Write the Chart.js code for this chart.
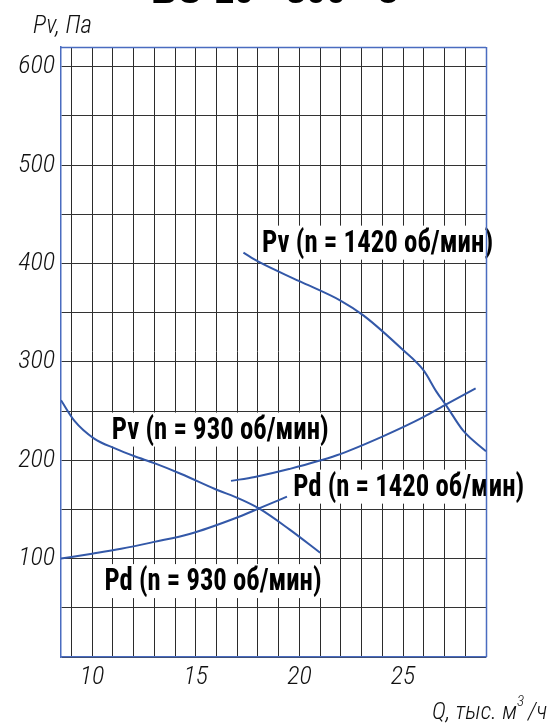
<!DOCTYPE html>
<html>
<head>
<meta charset="utf-8">
<script src="https://cdn.jsdelivr.net/npm/chart.js@4.4.1/dist/chart.umd.min.js"></script>
<style>
    body { margin: 0; background: #fff; overflow: hidden; }
    .wrap { position: relative; width: 549px; height: 725px; overflow: hidden; }
    .wrap canvas { position: absolute; left: 0; top: 0; }
    .title { position: absolute; left: 0; width: 549px; top: -27px; text-align: center;
             font: bold 36px 'Liberation Sans', Arial, sans-serif; line-height: 36px; color: #000; }
    .ytitle { position: absolute; left: 33px; top: 10px; font: italic 300 25px 'Roboto Condensed', 'Liberation Sans Narrow', sans-serif; color: #111; }
    .xtitle { position: absolute; left: 432px; top: 696px; font: italic 300 24px 'Roboto Condensed', 'Liberation Sans Narrow', sans-serif; color: #111; white-space: nowrap; }
    .xtitle sup { font-size: 15px; position: relative; top: -4px; margin-right: 4px; }
</style>
</head>
<body>
<div class="wrap">
    <canvas id="fanChart" width="549" height="725"></canvas>
    <div class="title">ВО 10 - 300 - 8</div>
    <div class="ytitle">Pv, Па</div>
    <div class="xtitle">Q, тыс. м<sup>3</sup>/ч</div>
</div>
<script>
// Values (Q in thousand m3/h, pressure in Pa)
const pv1420Q = [17.3, 18.0, 20.0, 22.0, 23.1, 25.0, 26.0, 26.6, 27.1, 27.9, 29.0];
const pv1420P = [411, 402, 382, 362, 347, 312, 291, 270, 255, 230, 209];

const pv930Q = [8.5, 9.15, 10.1, 11.1, 12.05, 13.0, 14.3, 15.9, 17.2, 18.05, 19.5, 21.0];
const pv930P = [261, 240, 222, 212, 204, 197, 186, 171, 160, 151, 130, 106];

const pd930Q = [8.5, 10.0, 11.4, 13.0, 14.7, 16.9, 18.05, 19.4];
const pd930P = [100, 105, 110, 117, 125, 141, 151, 163];

const pd1420Q = [16.7, 17.85, 19.5, 21.8, 24.0, 26.0, 27.1, 28.5];
const pd1420P = [179, 183, 191, 205, 224, 244, 257, 273];

const xTickLabels = [10, 15, 20, 25];
const yTickLabels = [100, 200, 300, 400, 500, 600];

const curveLabels = [
    'Pv (n = 1420 об/мин)',
    'Pv (n = 930 об/мин)',
    'Pd (n = 1420 об/мин)',
    'Pd (n = 930 об/мин)'
];

const lineColor = '#3358a8';
const frameColor = '#4a6cc0';

function toPoints(xs, ys) {
    return xs.map((x, i) => ({ x: x, y: ys[i] }));
}

function curve(label, xs, ys) {
    return {
        label: label,
        data: toPoints(xs, ys),
        borderColor: lineColor,
        borderWidth: 2,
        pointRadius: 0,
        fill: false,
        cubicInterpolationMode: 'monotone'
    };
}

// where each label sits: left edge / baseline in data units, plus its drawn width
const labelPlacement = [
    { q: 18.2, p: 412, w: 231 },
    { q: 10.95, p: 222, w: 217 },
    { q: 19.7, p: 164, w: 231 },
    { q: 10.6, p: 68, w: 217 }
];

// white boxed labels under the curves, plus the blue frame on top/right
const labelPlugin = {
    id: 'curveLabels',
    beforeDatasetsDraw(chart) {
        const ctx = chart.ctx;
        const xs = chart.scales.x;
        const ys = chart.scales.y;
        ctx.save();
        ctx.font = "bold 32px 'Liberation Sans Narrow', 'Arial Narrow', 'Roboto Condensed', sans-serif";
        ctx.textBaseline = 'alphabetic';
        curveLabels.forEach((text, i) => {
            const pl = labelPlacement[i];
            const px = xs.getPixelForValue(pl.q);
            const py = ys.getPixelForValue(pl.p);
            const sx = pl.w / ctx.measureText(text).width;
            ctx.fillStyle = '#fff';
            ctx.fillRect(px - 4, py - 26, pl.w + 8, 34);
            ctx.save();
            ctx.translate(px, py);
            ctx.scale(sx, 1);
            ctx.fillStyle = '#000';
            ctx.fillText(text, 0, 0);
            ctx.restore();
        });
        const a = chart.chartArea;
        ctx.strokeStyle = frameColor;
        ctx.lineWidth = 1.5;
        ctx.beginPath();
        ctx.moveTo(a.left, a.top + 0.5);
        ctx.lineTo(a.right, a.top + 0.5);
        ctx.moveTo(a.right + 0.5, a.top);
        ctx.lineTo(a.right + 0.5, a.bottom);
        ctx.stroke();
        ctx.restore();
    }
};

const tickFont = { family: "'Roboto Condensed', 'Liberation Sans Narrow', sans-serif", size: 26, style: 'italic', weight: 300 };

const ctx = document.getElementById('fanChart').getContext('2d');
const fanChart = new Chart(ctx, {
    type: 'line',
    data: {
        datasets: [
            curve(curveLabels[0], pv1420Q, pv1420P),
            curve(curveLabels[1], pv930Q, pv930P),
            curve(curveLabels[2], pd1420Q, pd1420P),
            curve(curveLabels[3], pd930Q, pd930P)
        ]
    },
    options: {
        responsive: false,
        animation: false,
        layout: { padding: { left: 0, right: 63, top: 47, bottom: 28 } },
        plugins: {
            legend: { display: false },
            tooltip: { enabled: false }
        },
        scales: {
            x: {
                type: 'linear',
                min: 8.5,
                max: 29,
                afterFit: (scale) => { scale.height = 40; },
                ticks: {
                    stepSize: 1,
                    includeBounds: false,
                    autoSkip: false,
                    maxRotation: 0,
                    padding: 5,
                    color: '#111',
                    font: tickFont,
                    callback: (v) => xTickLabels.includes(v) ? String(v) : ''
                },
                grid: { color: '#2b2b2b', lineWidth: 1, drawTicks: false },
                border: { color: frameColor, width: 1.5 }
            },
            y: {
                min: 0,
                max: 620,
                afterFit: (scale) => { scale.width = 61; },
                ticks: {
                    stepSize: 50,
                    includeBounds: false,
                    autoSkip: false,
                    padding: 6,
                    color: '#111',
                    font: tickFont,
                    callback: (v) => yTickLabels.includes(v) ? String(v) : ''
                },
                grid: { color: '#333', lineWidth: 1, drawTicks: false },
                border: { color: frameColor, width: 1.5 }
            }
        }
    },
    plugins: [labelPlugin]
});
</script>
</body>
</html>
